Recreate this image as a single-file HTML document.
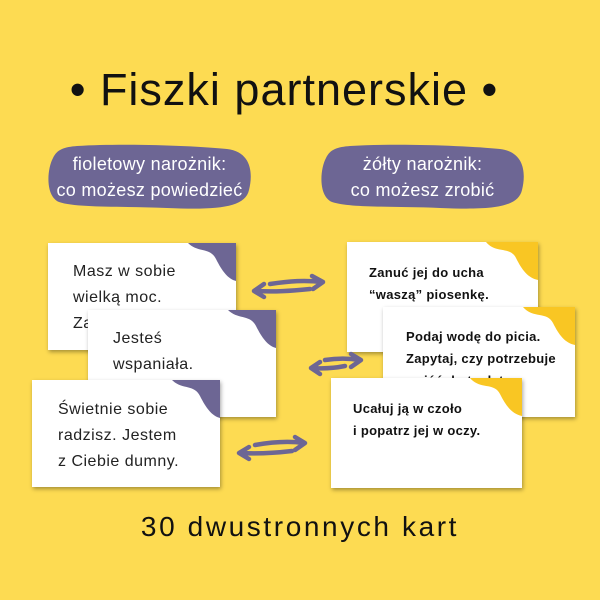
<!DOCTYPE html>
<html><head><meta charset="utf-8"><style>
html,body{margin:0;padding:0}
body{width:600px;height:600px;background:#fddb52;position:relative;overflow:hidden;font-family:"Liberation Sans",sans-serif}
.t{position:absolute;left:0;width:600px;text-align:center;color:#111}
.card{position:absolute;background:#fff;box-shadow:1px 2px 4px rgba(0,0,0,.35);overflow:hidden}
.card p{position:absolute;margin:0;color:#222}
.card svg{position:absolute;right:0;top:0}
.pill{position:absolute;width:205px;height:66px}
.pill div{position:absolute;left:0;top:7px;width:100%;color:#fff;text-align:center;font-size:18px;line-height:26px;letter-spacing:0.3px}
</style></head><body>
<div class="t" style="top:64px;left:-16px;font-size:45px;letter-spacing:1px">• Fiszki partnerskie •</div>
<div class="pill" style="left:47px;top:144px"><svg width="205" height="66" viewBox="0 0 205 66"><path d="M30 2 C80 -1 150 2 180 5 C205 8 206 30 202 46 C198 64 170 66 120 64 C70 62 30 64 12 58 C-2 52 0 25 6 14 C10 5 18 3 30 2Z" fill="#6d6694"/></svg><div>fioletowy narożnik:<br>co możesz powiedzieć</div></div>
<div class="pill" style="left:320px;top:144px"><svg width="205" height="66" viewBox="0 0 205 66"><path d="M30 2 C80 -1 150 2 180 5 C205 8 206 30 202 46 C198 64 170 66 120 64 C70 62 30 64 12 58 C-2 52 0 25 6 14 C10 5 18 3 30 2Z" fill="#6d6694"/></svg><div>żółty narożnik:<br>co możesz zrobić</div></div>

<div class="card" style="left:48px;top:243px;width:188px;height:107px"><p style="left:25px;top:16px;font-size:16px;line-height:26px;letter-spacing:0.5px">Masz w sobie<br>wielką moc.<br>Za</p><svg width="48" height="42" viewBox="0 0 48 42"><path d="M0 0 C10 10 22 4 28 16 C34 28 40 36 48 38 L48 0Z" fill="#6d6694"/></svg></div>
<div class="card" style="left:88px;top:310px;width:188px;height:107px"><p style="left:25px;top:16px;font-size:16px;line-height:26px;letter-spacing:0.5px">Jesteś<br>wspaniała.</p><svg width="48" height="42" viewBox="0 0 48 42"><path d="M0 0 C10 10 22 4 28 16 C34 28 40 36 48 38 L48 0Z" fill="#6d6694"/></svg></div>
<div class="card" style="left:32px;top:380px;width:188px;height:107px"><p style="left:26px;top:17px;font-size:16px;line-height:26px;letter-spacing:0.5px">Świetnie sobie<br>radzisz. Jestem<br>z Ciebie dumny.</p><svg width="48" height="42" viewBox="0 0 48 42"><path d="M0 0 C10 10 22 4 28 16 C34 28 40 36 48 38 L48 0Z" fill="#6d6694"/></svg></div>

<div class="card" style="left:347px;top:242px;width:191px;height:110px"><p style="left:22px;top:20px;font-size:13px;line-height:22px;font-weight:bold;color:#111;letter-spacing:0.3px">Zanuć jej do ucha<br>“waszą” piosenkę.</p><svg width="52" height="42" viewBox="0 0 52 42"><path d="M0 0 C10 12 24 4 30 16 C36 28 42 36 52 38 L52 0Z" fill="#f9c623"/></svg></div>
<div class="card" style="left:383px;top:307px;width:192px;height:110px"><p style="left:23px;top:19px;font-size:13px;line-height:22px;font-weight:bold;color:#111;letter-spacing:0.3px">Podaj wodę do picia.<br>Zapytaj, czy potrzebuje<br>wyjść do toalety.</p><svg width="52" height="42" viewBox="0 0 52 42"><path d="M0 0 C10 12 24 4 30 16 C36 28 42 36 52 38 L52 0Z" fill="#f9c623"/></svg></div>
<div class="card" style="left:331px;top:378px;width:191px;height:110px"><p style="left:22px;top:20px;font-size:13px;line-height:22px;font-weight:bold;color:#111;letter-spacing:0.3px">Ucałuj ją w czoło<br>i popatrz jej w oczy.</p><svg width="52" height="42" viewBox="0 0 52 42"><path d="M0 0 C10 12 24 4 30 16 C36 28 42 36 52 38 L52 0Z" fill="#f9c623"/></svg></div>

<svg style="position:absolute;left:0;top:0" width="600" height="600" fill="none" stroke="#6d6694" stroke-width="4.5" stroke-linecap="round" stroke-linejoin="round">
<g><path d="M270 284 C290 281 305 280 322 282 M312 276 L323 282 L313 289"/><path d="M255 291 C275 292 290 291 310 289 M264 284 L254 291 L264 297"/></g>
<g><path d="M325 360 C338 358 348 358 360 360 M351 354 L361 360 L351 367"/><path d="M312 368 C325 369 335 368 345 366 M320 362 L311 368 L320 374"/></g>
<g><path d="M255 445 C272 442 290 441 304 443 M295 437 L305 443 L295 450"/><path d="M240 453 C258 454 275 453 292 451 M249 447 L239 453 L249 459"/></g>
</svg>

<div class="t" style="top:511px;font-size:28px;letter-spacing:2.6px">30 dwustronnych kart</div>
</body></html>
